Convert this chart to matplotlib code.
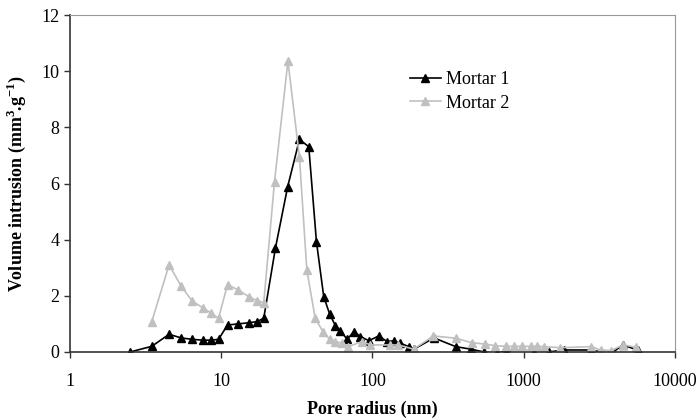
import numpy as np
import matplotlib
matplotlib.use("Agg")
import matplotlib.pyplot as plt

# pore radius (nm) and volume intrusion (mm3/g)
r1 = [2.50, 3.47, 4.52, 5.43, 6.40, 7.52, 8.58, 9.60, 11.0, 13.0, 15.2, 17.2, 19.1,
      22.8, 27.5, 32.9, 37.9, 42.6, 47.6, 52.1, 56.9, 61.4, 68.0, 75.2, 83.3, 94.5,
      110, 125, 138, 153, 174, 188, 255, 355, 446, 546, 670, 760, 980, 1164, 1466,
      1841, 2780, 3770, 4505, 5660]
v1 = [0.0, 0.2, 0.63, 0.5, 0.45, 0.42, 0.42, 0.45, 0.96, 1.0, 1.04, 1.08, 1.2,
      3.69, 5.89, 7.57, 7.31, 3.93, 1.97, 1.35, 0.93, 0.75, 0.45, 0.72, 0.55, 0.40,
      0.57, 0.37, 0.40, 0.31, 0.19, 0.1, 0.5, 0.19, 0.1, 0.0, -0.05, 0.05, -0.17,
      -0.05, 0.0, 0.07, 0.07, -0.07, 0.25, 0.07]

r2 = [3.47, 4.52, 5.43, 6.40, 7.52, 8.58, 9.60, 11.0, 13.0, 15.2, 17.2, 19.1,
      22.5, 27.6, 32.9, 36.8, 41.8, 47.1, 52.1, 56.9, 62.9, 69.4, 85.0, 97, 131,
      148, 187, 253, 355, 452, 558, 650, 760, 858, 980, 1110, 1228, 1360, 1745,
      2780, 3230, 3770, 4560, 5520]
v2 = [1.08, 3.1, 2.35, 1.82, 1.58, 1.38, 1.2, 2.4, 2.2, 1.97, 1.83, 1.76,
      6.07, 10.36, 6.93, 2.92, 1.2, 0.72, 0.45, 0.37, 0.31, 0.19, 0.37, 0.25, 0.25,
      0.25, 0.1, 0.57, 0.49, 0.33, 0.28, 0.22, 0.2, 0.2, 0.2, 0.2, 0.2, 0.19, 0.15,
      0.19, 0.07, 0.05, 0.25, 0.17]

plt.rcParams['font.family'] = ['Liberation Serif', 'DejaVu Serif']
plt.rcParams['mathtext.fontset'] = 'custom'
plt.rcParams['mathtext.rm'] = 'Liberation Serif'
plt.rcParams['mathtext.bf'] = 'Liberation Serif:bold'

fig = plt.figure(figsize=(6.98, 4.18), dpi=100)
ax = fig.add_axes([0.1003, 0.158, 0.8667, 0.806])

ax.plot(r1, v1, color='black', lw=1.2, marker='^', ms=5.5, label='Mortar 1')
ax.plot(r2, v2, color='#c0c0c0', lw=1.2, marker='^', ms=5.5, label='Mortar 2')

ax.set_xscale('log')
ax.set_xlim(1, 10000)
ax.set_ylim(0, 12)
ax.set_yticks(range(0, 13, 2))
ax.set_xticks([1, 10, 100, 1000, 10000])
ax.set_xticklabels(['1', '10', '100', '1000', '10000'])
ax.minorticks_off()
ax.tick_params(axis='both', labelsize=13, direction='out', length=4, width=1, color='#333333')
ax.tick_params(axis='x', pad=11)

for s in ['top', 'right']:
    ax.spines[s].set_color('#999999')
for s in ['left', 'bottom']:
    ax.spines[s].set_color('#333333')
    ax.spines[s].set_linewidth(1.2)

ax.set_ylabel(r'Volume intrusion (mm$^{\mathbf{3}}$.g$^{\mathbf{-1}}$)', fontsize=13,
              fontweight='bold', labelpad=10)
ax.set_xlabel('Pore radius (nm)', fontsize=13, fontweight='bold', labelpad=8)

ax.legend(loc='upper left', bbox_to_anchor=(0.547, 0.86), frameon=False, fontsize=13,
          handlelength=1.7, handletextpad=0.3, labelspacing=0.35, borderpad=0)

fig.savefig('out.png', dpi=100)
